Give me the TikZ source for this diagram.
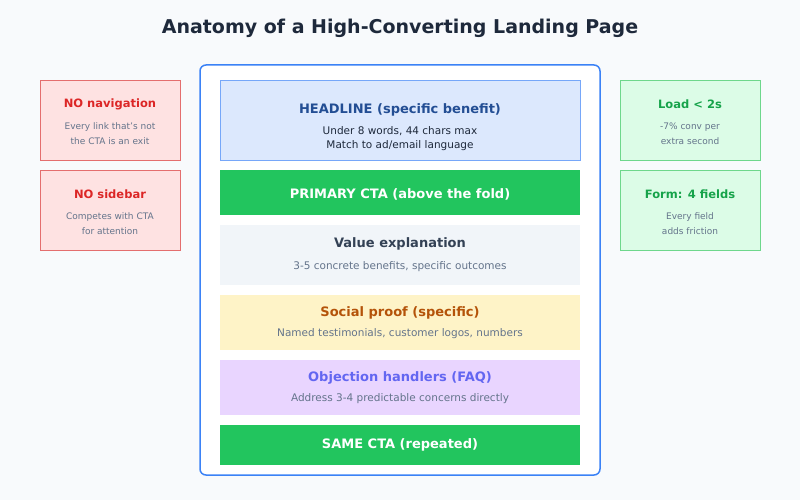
\documentclass[tikz,border=0pt]{standalone}
\usepackage{fontspec}
\setmainfont{DejaVu Sans}
\definecolor{bg}{HTML}{F8FAFC}
\definecolor{sub}{HTML}{64748B}
\definecolor{dark}{HTML}{1E293B}
\definecolor{blue}{HTML}{3B82F6}
\definecolor{green}{HTML}{22C55E}
\definecolor{valfill}{HTML}{F1F5F9}
\definecolor{valtext}{HTML}{334155}
\definecolor{spfill}{HTML}{FEF3C7}
\definecolor{sptext}{HTML}{B45309}
\definecolor{ofill}{HTML}{E9D5FF}
\definecolor{otext}{HTML}{6366F1}
\definecolor{rfill}{HTML}{FEE2E2}
\definecolor{rdraw}{HTML}{E46E6E}
\definecolor{rtext}{HTML}{DC2626}
\definecolor{gfill}{HTML}{DCFCE7}
\definecolor{gdraw}{HTML}{6ED78C}
\definecolor{gtext}{HTML}{16A34A}
\begin{document}
\begin{tikzpicture}[x=1pt,y=-1pt,
  t/.style={font=\bfseries\fontsize{13}{15}\selectfont},
  s/.style={font=\fontsize{10.5}{13}\selectfont,text=sub},
  st/.style={font=\bfseries\fontsize{11.5}{14}\selectfont},
  ss/.style={font=\fontsize{9}{15}\selectfont,text=sub,align=center}]
\fill[bg] (0,0) rectangle (800,500);
\useasboundingbox (0,0) rectangle (800,500);
\node[font=\bfseries\fontsize{19}{22}\selectfont,text=dark] (title) at (400,28) {Anatomy of a High-Converting Landing Page};
\draw[blue,line width=1.5pt,fill=white,rounded corners=6pt] (200,65) rectangle (600,475);
\draw[fill=blue!18,draw=blue!70] (220,80) rectangle (580,160);
\node[t,text=blue!60!black] (h) at (400,110) {HEADLINE (specific benefit)};
\node[font=\fontsize{10.5}{13}\selectfont,text=dark] (h1) at (400,131) {Under 8 words, 44 chars max};
\node[font=\fontsize{10.5}{13}\selectfont,text=dark] (h2) at (400,146) {Match to ad/email language};
\fill[green] (220,170) rectangle (580,215);
\node[t,text=white] (cta) at (400,194) {PRIMARY CTA (above the fold)};
\fill[valfill] (220,225) rectangle (580,285);
\node[t,text=valtext] (v) at (400,244) {Value explanation};
\node[s] (v1) at (400,267) {3-5 concrete benefits, specific outcomes};
\fill[spfill] (220,295) rectangle (580,350);
\node[t,text=sptext] (sp) at (400,313) {Social proof (specific)};
\node[s] (sp1) at (400,334) {Named testimonials, customer logos, numbers};
\fill[ofill] (220,360) rectangle (580,415);
\node[t,text=otext] (o) at (400,378) {Objection handlers (FAQ)};
\node[s] (o1) at (400,399) {Address 3-4 predictable concerns directly};
\fill[green] (220,425) rectangle (580,465);
\node[t,text=white] (cta2) at (400,445) {SAME CTA (repeated)};
\draw[fill=rfill,draw=rdraw] (40,80) rectangle (180,160);
\node[st,text=rtext] (l1) at (110,104) {NO navigation};
\node[ss] (l1s) at (110,134) {Every link that's not\\the CTA is an exit};
\draw[fill=rfill,draw=rdraw] (40,170) rectangle (180,250);
\node[st,text=rtext] (l2) at (110,194) {NO sidebar};
\node[ss] (l2s) at (110,224) {Competes with CTA\\for attention};
\draw[fill=gfill,draw=gdraw] (620,80) rectangle (760,160);
\node[st,text=gtext] (r1) at (690,104) {Load < 2s};
\node[ss] (r1s) at (690,134) {-7\% conv per\\extra second};
\draw[fill=gfill,draw=gdraw] (620,170) rectangle (760,250);
\node[st,text=gtext] (r2) at (690,194) {Form: 4 fields};
\node[ss] (r2s) at (690,224) {Every field\\adds friction};
\end{tikzpicture}
\end{document}
